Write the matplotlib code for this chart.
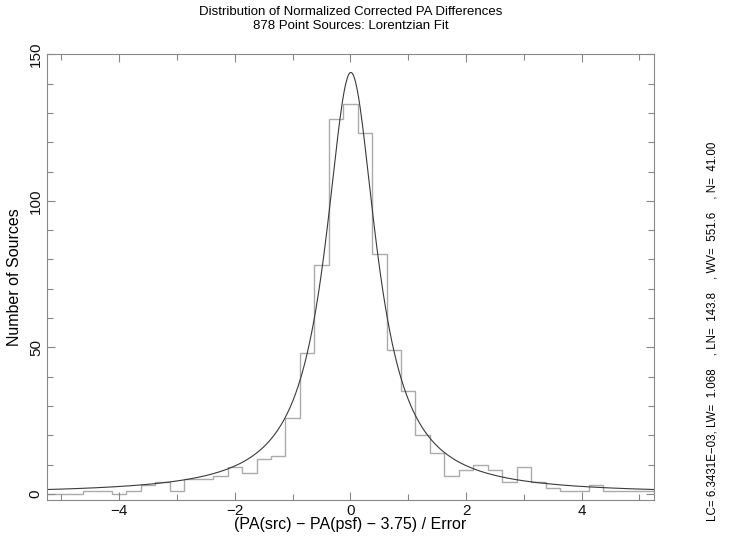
import numpy as np
import matplotlib
matplotlib.use("Agg")
import matplotlib.pyplot as plt
from matplotlib.ticker import MultipleLocator

# bin centres (width 0.25) and counts
bin_centers = np.arange(-21, 22) * 0.25
counts = [0, 0, 0, 1, 1, 0, 1, 3, 4, 1, 5, 5, 6, 9, 7, 12, 13,
          26, 48, 78, 128, 133, 123, 82, 49, 35,
          20, 14, 6, 8, 10, 8, 4, 9, 4, 2, 1, 1, 3, 1, 1, 1, 1]

# Lorentzian fit parameters
LC = 6.3431e-03
LW = 1.068
LN = 143.8

title = "Distribution of Normalized Corrected PA Differences\n878 Point Sources: Lorentzian Fit"
xlabel = "(PA(src) \u2212 PA(psf) \u2212 3.75) / Error"
ylabel = "Number of Sources"
info = "LC= 6.3431E\u221203, LW=  1.068    , LN=  143.8    , WV=  551.6    , N=  41.00"

plt.rcParams['font.family'] = ['Liberation Sans', 'DejaVu Sans']

fig = plt.figure(figsize=(7.29, 5.43), dpi=100)
ax = fig.add_axes([0.0645, 0.0792, 0.8325, 0.8208])

# histogram
edges = np.append(bin_centers - 0.125, bin_centers[-1] + 0.125)
ax.stairs(counts, edges, color='#ababab', linewidth=1.0)

# fitted Lorentzian
x = np.linspace(-5.3, 5.3, 800)
y = LN / (1 + (2 * (x - LC) / LW) ** 2)
ax.plot(x, y, color='#3a3a3a', linewidth=0.8)

ax.set_xlim(-5.25, 5.25)
ax.set_ylim(-2.1, 150)

ax.xaxis.set_major_locator(MultipleLocator(2))
ax.xaxis.set_minor_locator(MultipleLocator(1))
ax.yaxis.set_major_locator(MultipleLocator(50))
ax.yaxis.set_minor_locator(MultipleLocator(10))
ax.tick_params(which='both', direction='in', top=True, right=True,
               color='#888888', labelsize=11, labelcolor='#111111', pad=3)
ax.tick_params(which='major', length=6, width=0.8)
ax.tick_params(which='minor', length=4, width=0.8)
for lbl in ax.get_yticklabels():
    lbl.set_rotation(90)
    lbl.set_va('center')
for s in ax.spines.values():
    s.set_color('#888888')
    s.set_linewidth(0.8)

ax.set_xlabel(xlabel, fontsize=11.5, labelpad=-1)
ax.set_ylabel(ylabel, fontsize=11.5, labelpad=5)
ax.set_title(title, fontsize=9.5, linespacing=1.25, pad=18)

fig.text(0.978, 0.39, info, rotation=90, fontsize=8.3, ha='center', va='center')

plt.savefig("out.png", dpi=100)
plt.close()
